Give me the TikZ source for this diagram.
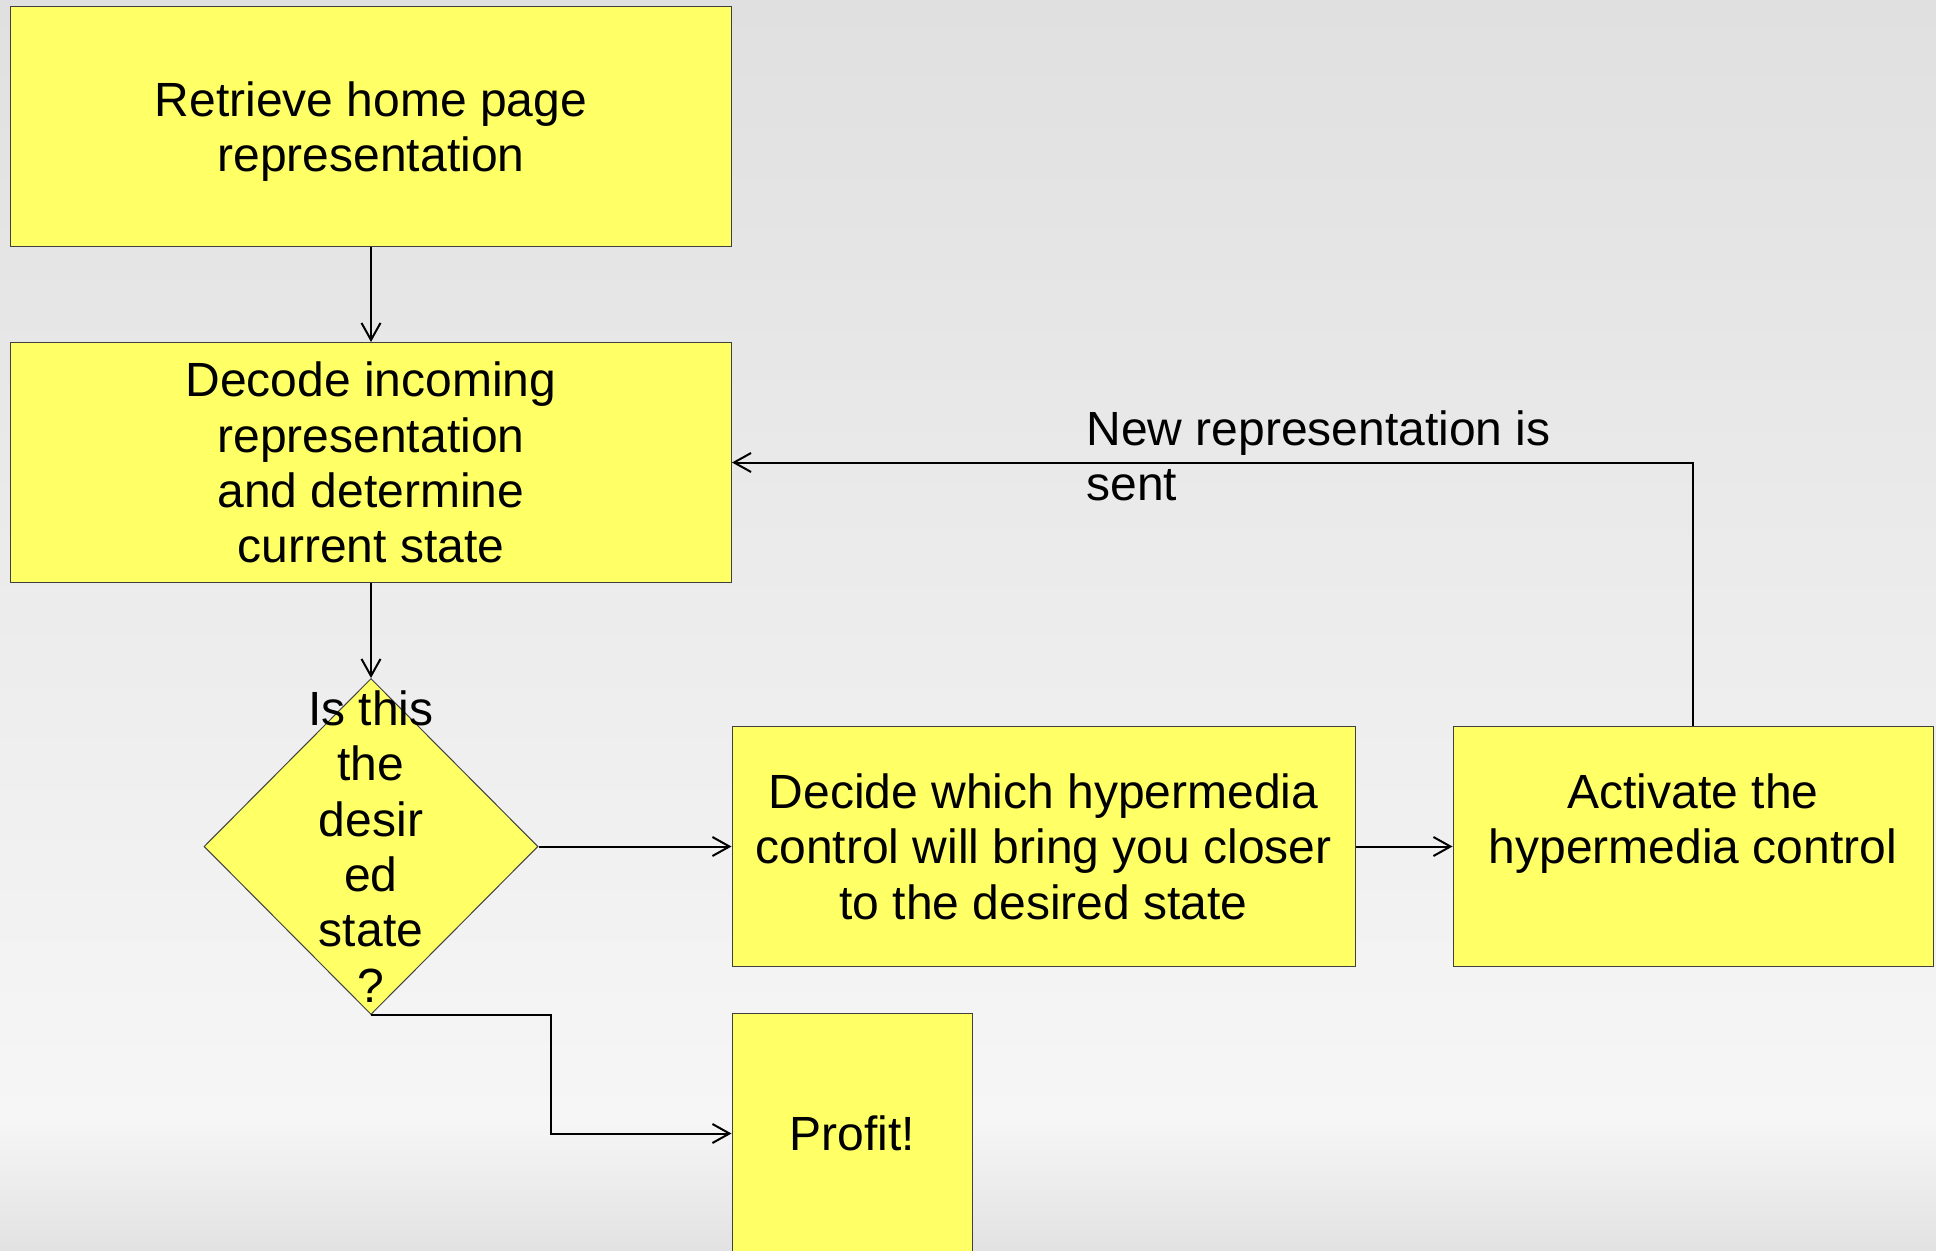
\documentclass[tikz,border=0pt]{standalone}
\usepackage{fontspec}
\setmainfont{Liberation Sans}
\usepackage{xcolor}
\usepackage{tikz}
\usetikzlibrary{shapes.geometric,arrows.meta,positioning,calc}
\definecolor{notepad}{RGB}{255, 255, 102}
\definecolor{rimgray}{RGB}{64, 64, 64}
\definecolor{bgtop}{RGB}{224, 224, 224}
\definecolor{bgmid}{RGB}{246, 246, 246}
\definecolor{bgbot}{RGB}{226, 226, 226}

\begin{document}
\begin{tikzpicture}[
    node distance=48pt,
    box/.style={rectangle, draw=rimgray, line width=0.5pt, fill=notepad, minimum height=120pt, align=center, inner sep=0pt, text depth=0pt, font=\fontsize{24}{27.7}\selectfont},
    decision/.style={diamond, draw=rimgray, line width=0.5pt, fill=notepad, minimum width=167pt, minimum height=168pt, inner sep=0pt},
    flow/.style={-{Straight Barb[length=8.5pt, width=9.5pt]}, line width=1pt},
    caption/.style={align=left, inner sep=0pt, font=\fontsize{24}{27.7}\selectfont},
]
    % Background
    \fill[top color=bgtop, bottom color=bgmid] (0,0) rectangle (968pt,-560pt);
    \fill[top color=bgmid, bottom color=bgbot] (0,-560pt) rectangle (968pt,-625.5pt);
    \useasboundingbox (0,0) rectangle (968pt,-625.5pt);

    % Home page
    \node[box, minimum width=360.5pt, anchor=north west] (home) at (5pt,-3pt) {
        Retrieve home page\\
        representation
    };

    % Decode
    \node[box, minimum width=360.5pt, below=47.5pt of home] (decode) {
        Decode incoming\\
        representation\\
        and determine\\
        current state
    };

    % Decision
    \node[decision, below=47.5pt of decode] (check) {};
    \node[caption, align=center] (checktext) at (check) {
        Is this\\
        the\\
        desir\\
        ed\\
        state\\
        ?
    };

    % Decide
    \node[box, minimum width=311.5pt, right=96.5pt of check] (decide) {
        Decide which hypermedia\\
        control will bring you closer\\
        to the desired state
    };

    % Activate
    \node[box, minimum width=240pt, right=48.5pt of decide] (activate) {
        Activate the\\
        hypermedia control\\
        \mbox{}
    };

    % Profit
    \node[box, minimum width=120pt, below=23pt of decide.south west, anchor=north west] (profit) {Profit!};

    % Arrows
    \draw[flow] (home) -- (decode);
    \draw[flow] (decode) -- (check);
    \draw[flow] (check.east) -- (decide.west);
    \draw[flow] (decide) -- (activate);
    \draw[flow] (activate.north) |- (decode.east);
    \draw[flow] (check.south) -| ($(check.south)!0.5!(profit.west)$) |- (profit.west);

    % Loop label
    \node[caption, anchor=north west] (sentnote) at (543pt,-205pt) {
        New representation is\\
        sent
    };
\end{tikzpicture}
\end{document}
